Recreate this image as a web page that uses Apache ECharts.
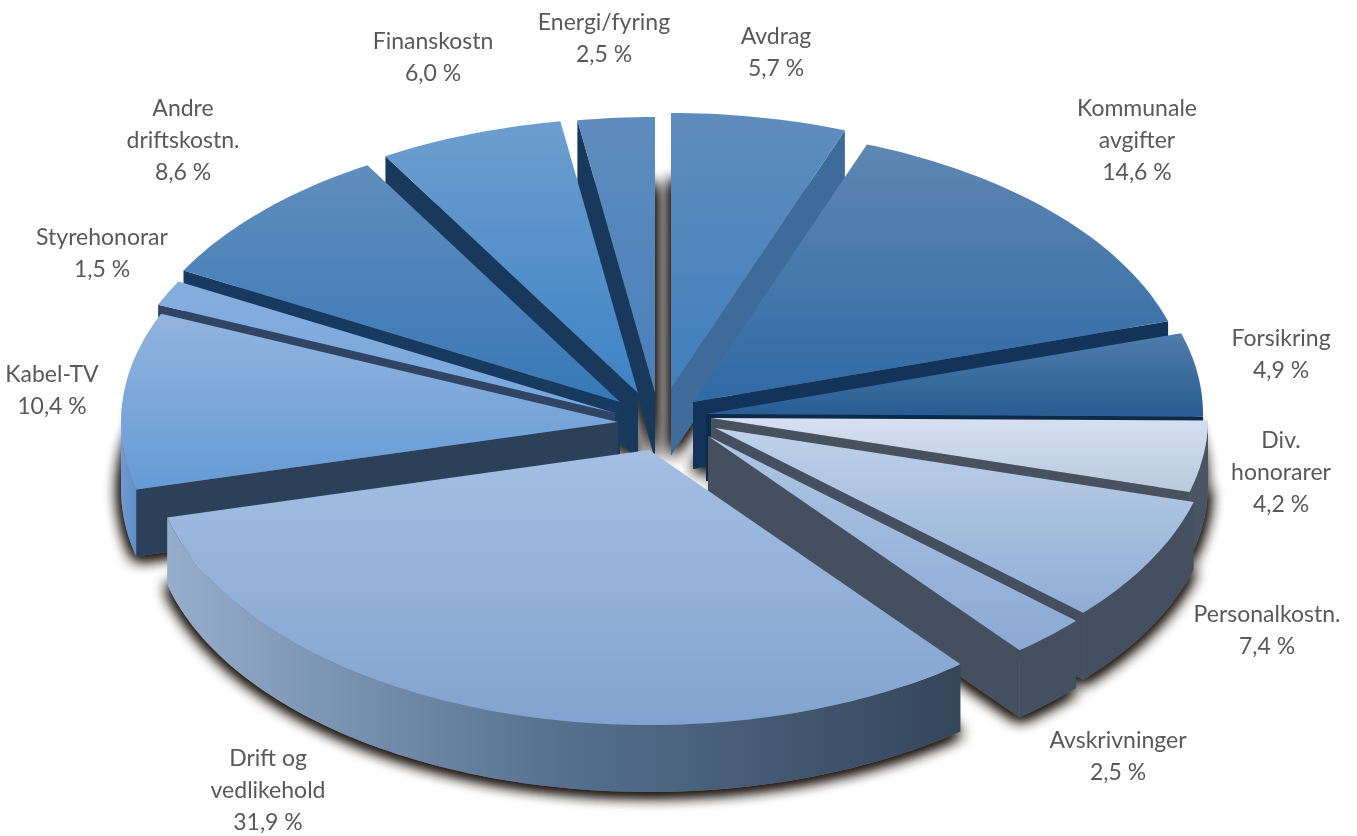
<!DOCTYPE html>
<html>
<head>
<meta charset="utf-8">
<style>html,body{margin:0;padding:0;background:#fff}#chart{width:1357px;height:836px}</style>
<script src="https://cdn.jsdelivr.net/npm/echarts@6/dist/echarts.min.js"></script>
</head>
<body>
<div id="chart"></div>
<script>
// Cost shares, clockwise from twelve o'clock
const categories = ['Avdrag', 'Kommunale\navgifter', 'Forsikring', 'Div.\nhonorarer', 'Personalkostn.', 'Avskrivninger',
  'Drift og\nvedlikehold', 'Kabel-TV', 'Styrehonorar', 'Andre\ndriftskostn.', 'Finanskostn', 'Energi/fyring'];
const shares = [5.7, 14.6, 4.9, 4.2, 7.4, 2.5, 31.9, 10.4, 1.5, 8.6, 6.0, 2.5];

// Exploded-pie layout: where each wedge's tip sits relative to the pie centre
const explodeOffset = [[6, -32], [28, -18], [41, -6], [46, -2], [50, 8], [43, 16],
  [-16, 30], [-47, 2], [-50, -7], [-45, -18], [-27, -27], [-10, -28]];
const labelCenter = [[776, 36], [1137, 108], [1281, 338], [1281, 440], [1267, 614], [1118, 740],
  [268, 758], [52, 374], [102, 237], [183, 108], [433, 41], [604, 22]];

// Top-face gradient (top, bottom), radial cut wall and rim wall colours
const faceColors = [['#5f8cbd', '#4080bd'], ['#5f87b2', '#2f6aa5'], ['#4f7dab', '#285c92'], ['#d6e0f0', '#bac8de'],
  ['#bfd1e9', '#8fadd4'], ['#b0c6e3', '#8aa9d3'], ['#a3bfe2', '#82a3cf'], ['#93b4de', '#659bd6'],
  ['#86aedd', '#78a6db'], ['#608dbd', '#3878b6'], ['#6d9ecf', '#3e83c5'], ['#5f8cbe', '#4880bb']];
const cutColors = ['#3f6b9b', '#12335a', '#0c2a4a', '#48525f', '#44505f', '#44505f',
  '#44505f', '#2c405a', '#2f4563', '#163a60', '#18385c', '#18385c'];
const rimColors = [
  ['#3f6b9b', '#3f6b9b'], ['#2c5a8c', '#2c5a8c'], ['#3b4d60', '#3b4d60'], ['#4a5563', '#4a5563'],
  ['#44505f', '#44505f'], ['#44505f', '#44505f'], ['#96aecb', '#566f8f', '#33465a'], ['#6f9bd0', '#5f8dc6'],
  ['#6f9bd0', '#6f9bd0'], ['#3f6b9b', '#3f6b9b'], ['#3f6b9b', '#3f6b9b'], ['#3f6b9b', '#3f6b9b']];

const PIE = { cx: 665, cy: 420, rx: 497, ry: 275, depth: 67 };
const FONT = 'Lato, "Open Sans", sans-serif';

const total = shares.reduce((a, b) => a + b, 0);
let running = 0;
const wedges = shares.map((v, i) => {
  const start = running / total * Math.PI * 2;
  running += v;
  const end = running / total * Math.PI * 2;
  return { index: i, start, end, mid: (start + end) / 2 };
});
// Paint far wedges first so nearer ones overlap them
const paintOrder = wedges.slice().sort((a, b) => Math.cos(b.mid) - Math.cos(a.mid)).map(w => w.index);

function vertical(stops) {
  return { type: 'linear', x: 0, y: 0, x2: 0, y2: 1,
    colorStops: stops.map((c, i) => ({ offset: i / (stops.length - 1), color: c })) };
}
function horizontal(stops) {
  return { type: 'linear', x: 0, y: 0, x2: 1, y2: 0,
    colorStops: stops.map((c, i) => ({ offset: i / (stops.length - 1), color: c })) };
}

function wedgeOutline(i) {
  const w = wedges[i];
  const tip = [PIE.cx + explodeOffset[i][0], PIE.cy + explodeOffset[i][1]];
  const steps = Math.max(6, Math.ceil((w.end - w.start) / 0.02));
  const arc = [];
  for (let s = 0; s <= steps; s++) {
    const t = w.start + (w.end - w.start) * s / steps;
    arc.push([tip[0] + PIE.rx * Math.sin(t), tip[1] - PIE.ry * Math.cos(t)]);
  }
  return { tip, arc };
}
const drop = p => [p[0], p[1] + PIE.depth];

function polygon(points, fill, extra) {
  return { type: 'polygon', silent: true, shape: { points }, style: Object.assign({ fill }, extra || {}) };
}

// Soft cast shadow: the wedge's foot stamped several times so it stays dark close to the edge
function renderShadow(params, api) {
  const i = api.value(0);
  const { tip, arc } = wedgeOutline(i);
  const pts = [tip].concat(arc).map(drop);
  const stamp = () => polygon(pts, '#6f6b69', { shadowBlur: 15, shadowColor: 'rgba(25,18,12,0.95)', shadowOffsetY: 2 });
  return { type: 'group', children: [stamp(), stamp(), stamp()] };
}

function renderWedge(params, api) {
  const i = api.value(0);
  const { tip, arc } = wedgeOutline(i);
  const a = arc[0], b = arc[arc.length - 1];
  const children = [];
  // Radial cut walls that face the viewer
  if (a[0] < tip[0]) children.push(polygon([tip, a, drop(a), drop(tip)], cutColors[i]));
  if (tip[0] < b[0]) children.push(polygon([b, tip, drop(tip), drop(b)], cutColors[i]));
  // Outer rim: only the stretch of the arc that runs right to left on screen
  const runs = [];
  let run = null;
  for (let s = 0; s < arc.length - 1; s++) {
    if (arc[s + 1][0] < arc[s][0]) {
      if (!run) { run = [arc[s]]; runs.push(run); }
      run.push(arc[s + 1]);
    } else run = null;
  }
  runs.forEach(r => {
    const pts = r.concat(r.slice().reverse().map(drop));
    children.push(polygon(pts, horizontal(rimColors[i])));
  });
  children.push(polygon([tip].concat(arc), vertical(faceColors[i])));
  return { type: 'group', children };
}

const percentText = v => v.toFixed(1).replace('.', ',') + ' %';

function renderLabel(params, api) {
  const i = api.value(0);
  return {
    type: 'text', silent: true, x: labelCenter[i][0], y: labelCenter[i][1] - 15,
    style: {
      text: categories[i] + '\n' + percentText(shares[i]),
      fill: '#595959', font: '23px ' + FONT, align: 'center', verticalAlign: 'top', lineHeight: 32
    }
  };
}

const chart = echarts.init(document.getElementById('chart'), null, { renderer: 'canvas' });
chart.setOption({
  backgroundColor: '#ffffff',
  animation: false,
  tooltip: { show: false },
  series: [
    { type: 'custom', coordinateSystem: 'none', z: 1, renderItem: renderShadow, data: paintOrder.map(i => [i]) },
    { type: 'custom', coordinateSystem: 'none', z: 2, renderItem: renderWedge, data: paintOrder.map(i => [i]) },
    { type: 'custom', coordinateSystem: 'none', z: 3, renderItem: renderLabel, data: categories.map((c, i) => [i]) }
  ]
});
</script>
</body>
</html>
